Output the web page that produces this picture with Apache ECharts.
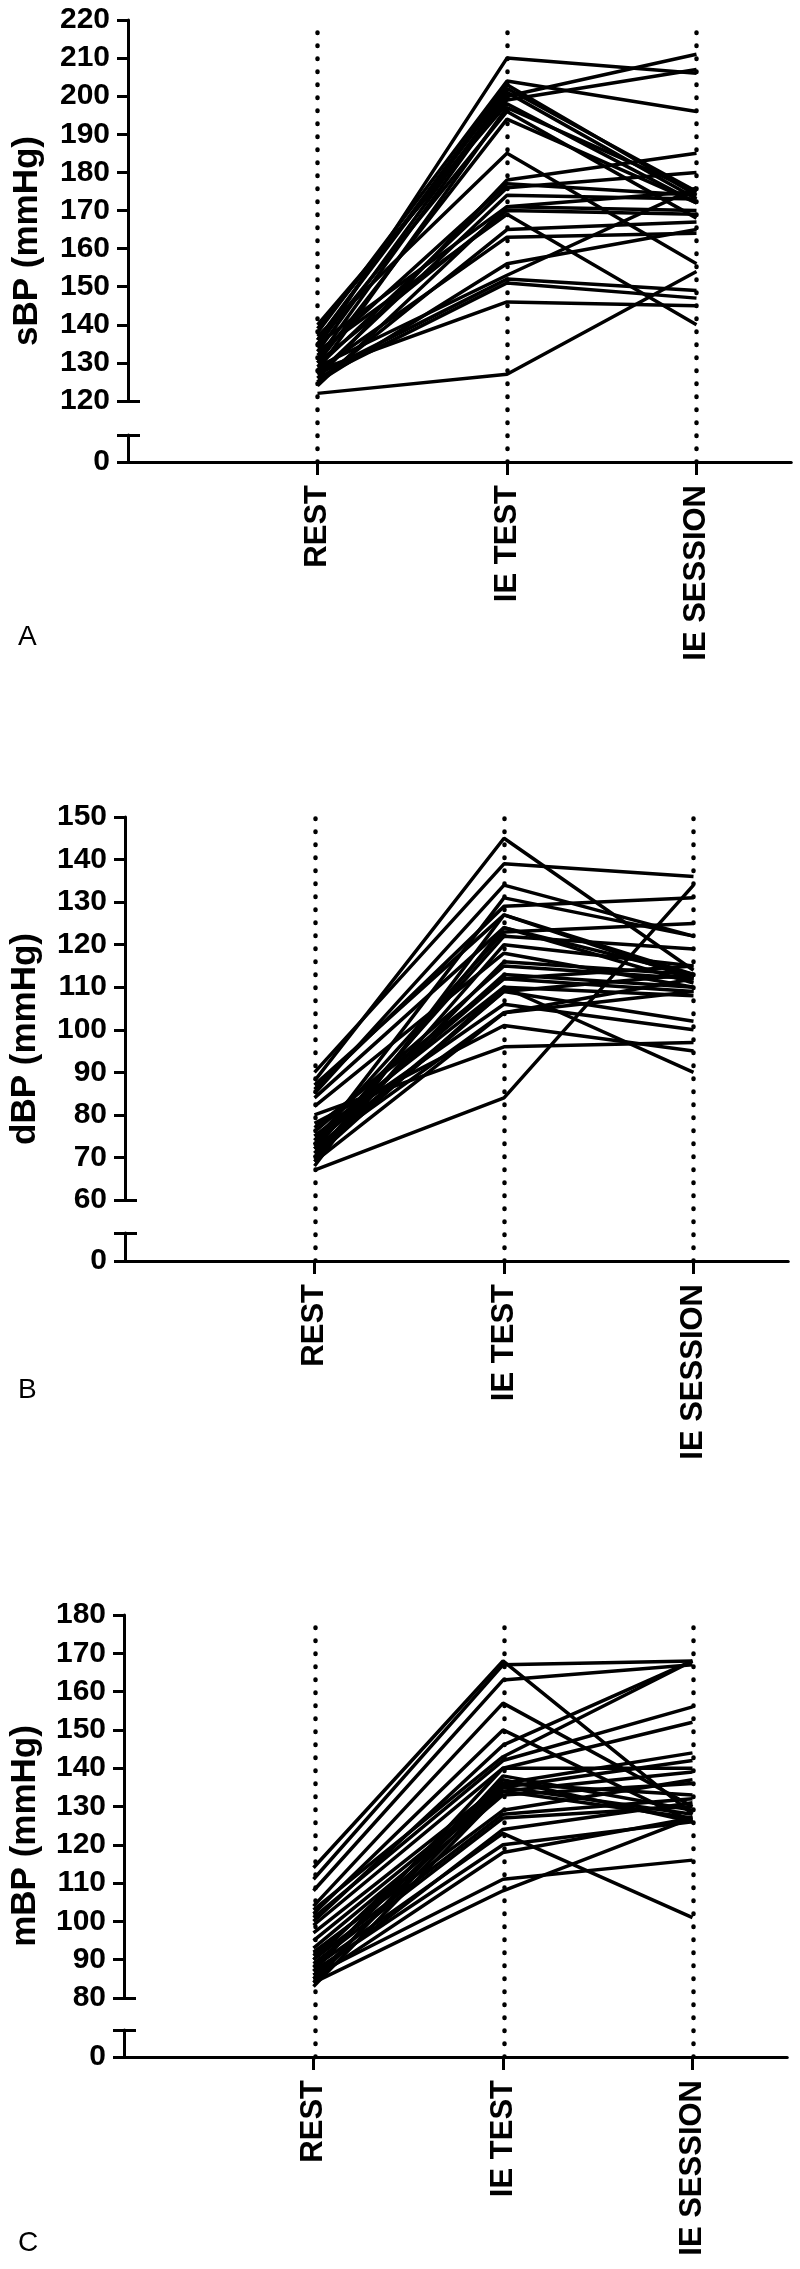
<!DOCTYPE html>
<html>
<head>
<meta charset="utf-8">
<script src="https://cdn.jsdelivr.net/npm/echarts@6/dist/echarts.min.js"></script>
<style>
  html, body { margin: 0; padding: 0; background: #fff; }
  #chart { width: 800px; height: 2269px; }
</style>
</head>
<body>
<div id="chart"></div>
<script>
// time points
var categories = ['REST', 'IE TEST', 'IE SESSION'];

// systolic BP per subject (mmHg)
var sbpRest    = [134, 138, 136, 131, 139, 133, 128, 135, 130, 137, 126, 132, 129, 127, 135, 124, 133, 130, 128, 125, 129, 127, 126, 128, 122, 125, 136, 140];
var sbpTest    = [210, 204, 203, 200, 199, 201, 197, 196, 194, 185, 178, 177, 176, 174, 171, 171, 169, 170, 163, 156, 153, 152, 151, 146, 127, 165, 202, 198];
var sbpSession = [206, 196, 174, 211, 207, 173, 175, 168, 172, 156, 185, 174, 180, 173, 175, 170, 140, 169, 164, 165, 176, 149, 147, 145, 154, 167, 175, 172];

// diastolic BP
var dbpRest    = [88, 90, 85, 86, 67, 80, 78, 75, 72, 70, 74, 73, 76, 71, 69, 72, 74, 70, 68, 73, 75, 77, 71, 72, 69, 82, 84, 87];
var dbpTest    = [145, 139, 134, 129, 84, 96, 101, 106, 109, 110, 112, 113, 115, 116, 120, 122, 123, 124, 127, 131, 110, 112, 109, 104, 104, 118, 124, 127];
var dbpSession = [114, 136, 122, 131, 134, 97, 95, 100, 102, 90, 109, 110, 112, 113, 115, 119, 125, 113, 112, 122, 108, 115, 113, 112, 109, 110, 111, 113];

// mean BP
var mbpRest    = [114, 111, 108, 104, 102, 100, 103, 101, 99, 97, 95, 93, 91, 90, 89, 88, 87, 86, 85, 84, 83, 88, 92, 86, 85, 90, 87, 84];
var mbpTest    = [168, 167, 163, 157, 150, 146, 143, 142, 140, 136, 135, 134, 133, 128, 127, 123, 120, 111, 135, 138, 134, 136, 129, 124, 118, 137, 140, 108];
var mbpSession = [128, 168, 167, 130, 126, 168, 168, 156, 152, 144, 142, 139, 136, 132, 130, 101, 126, 116, 128, 129, 127, 133, 137, 131, 127, 126, 140, 127];

// y axis [min, max, step] above the break
var sbpRange = [120, 220, 10];
var dbpRange = [60, 150, 10];
var mbpRange = [80, 180, 10];

var FONT = '"Liberation Sans", Arial, sans-serif';
var UNIT = 189.5;   // px between time points
var XMAX = 3.5;

var panels = [
  {letter: 'A', name: 'sBP (mmHg)', range: sbpRange, rest: sbpRest, test: sbpTest, session: sbpSession,
   left: 128, top: 20, bottom: 401, cap: 435, zero: 462, letterTop: 623},
  {letter: 'B', name: 'dBP (mmHg)', range: dbpRange, rest: dbpRest, test: dbpTest, session: dbpSession,
   left: 125, top: 817, bottom: 1200, cap: 1233, zero: 1261, letterTop: 1376},
  {letter: 'C', name: 'mBP (mmHg)', range: mbpRange, rest: mbpRest, test: mbpTest, session: mbpSession,
   left: 124, top: 1615, bottom: 1998, cap: 2030, zero: 2057, letterTop: 2229}
];

var black = {color: '#000', width: 3};
var tickFont = {color: '#000', fontFamily: FONT, fontWeight: 'bold', fontSize: 30};

var option = {
  animation: false,
  backgroundColor: '#fff',
  title: [], grid: [], xAxis: [], yAxis: [], series: []
};

panels.forEach(function (p) {
  var g = option.grid.length;
  var xi = option.xAxis.length;
  var yi = option.yAxis.length;
  var w = UNIT * XMAX;

  option.title.push({
    text: p.letter, left: 18, top: p.letterTop, padding: 0,
    textStyle: {color: '#000', fontFamily: FONT, fontWeight: 'normal', fontSize: 28}
  });

  // data part, break part, full height (dots + axis name)
  option.grid.push({left: p.left, top: p.top, width: w, height: p.bottom - p.top});
  option.grid.push({left: p.left, top: p.cap, width: w, height: p.zero - p.cap});
  option.grid.push({left: p.left, top: p.top, width: w, height: p.zero - p.top});

  option.xAxis.push({type: 'value', gridIndex: g, min: 0, max: XMAX, show: false});
  option.xAxis.push({
    type: 'value', gridIndex: g + 1, min: 0, max: XMAX,
    axisLine: {lineStyle: black},
    axisTick: {customValues: [1, 2, 3], length: 13, lineStyle: black},
    axisLabel: {
      customValues: [1, 2, 3], rotate: 90, margin: 23,
      color: '#000', fontFamily: FONT, fontWeight: 'bold', fontSize: 31,
      formatter: function (v) { return categories[Math.round(v) - 1] || ''; }
    },
    splitLine: {show: false}
  });
  option.xAxis.push({type: 'value', gridIndex: g + 2, min: 0, max: XMAX, show: false});

  var r = p.range;
  // main scale
  option.yAxis.push({
    type: 'value', gridIndex: g, position: 'left', min: r[0], max: r[1], interval: r[2],
    axisLine: {show: true, lineStyle: black},
    axisTick: {show: true, length: 11, lineStyle: black},
    axisLabel: Object.assign({margin: 18}, tickFont),
    splitLine: {show: false}
  });
  // end cap at bottom of main scale
  option.yAxis.push({
    type: 'value', gridIndex: g, position: 'left', min: r[0], max: r[1],
    axisLine: {show: false},
    axisTick: {show: true, inside: true, length: 12, customValues: [r[0]], lineStyle: black},
    axisLabel: {show: false}, splitLine: {show: false}
  });
  // short segment down to 0
  option.yAxis.push({
    type: 'value', gridIndex: g + 1, position: 'left', min: 0, max: 1,
    axisLine: {show: true, lineStyle: black},
    axisTick: {show: true, length: 11, customValues: [0, 1], lineStyle: black},
    axisLabel: Object.assign({margin: 18, customValues: [0]}, tickFont),
    splitLine: {show: false}
  });
  option.yAxis.push({
    type: 'value', gridIndex: g + 1, position: 'left', min: 0, max: 1,
    axisLine: {show: false},
    axisTick: {show: true, inside: true, length: 12, customValues: [1], lineStyle: black},
    axisLabel: {show: false}, splitLine: {show: false}
  });
  // full height axis: only carries the name
  option.yAxis.push({
    type: 'value', gridIndex: g + 2, position: 'left', min: 0, max: 1,
    axisLine: {show: false}, axisTick: {show: false}, axisLabel: {show: false}, splitLine: {show: false},
    name: p.name, nameLocation: 'middle', nameGap: 83,
    nameTextStyle: {color: '#000', fontFamily: FONT, fontWeight: 'bold', fontSize: 35}
  });

  // dotted verticals at each time point
  option.series.push({
    type: 'line', xAxisIndex: xi + 2, yAxisIndex: yi + 4, data: [], silent: true, z: 1,
    markLine: {
      symbol: 'none', silent: true, label: {show: false}, animation: false,
      lineStyle: {color: '#000', width: 4.5, type: [0.5, 12.5], cap: 'round'},
      data: [{xAxis: 1}, {xAxis: 2}, {xAxis: 3}]
    }
  });

  for (var i = 0; i < p.rest.length; i++) {
    option.series.push({
      type: 'line', xAxisIndex: xi, yAxisIndex: yi, silent: true, z: 3,
      symbol: 'none',
      lineStyle: {color: '#000', width: 3.5},
      data: [[1, p.rest[i]], [2, p.test[i]], [3, p.session[i]]]
    });
  }
});

var chart = echarts.init(document.getElementById('chart'));
chart.setOption(option);
</script>
</body>
</html>
